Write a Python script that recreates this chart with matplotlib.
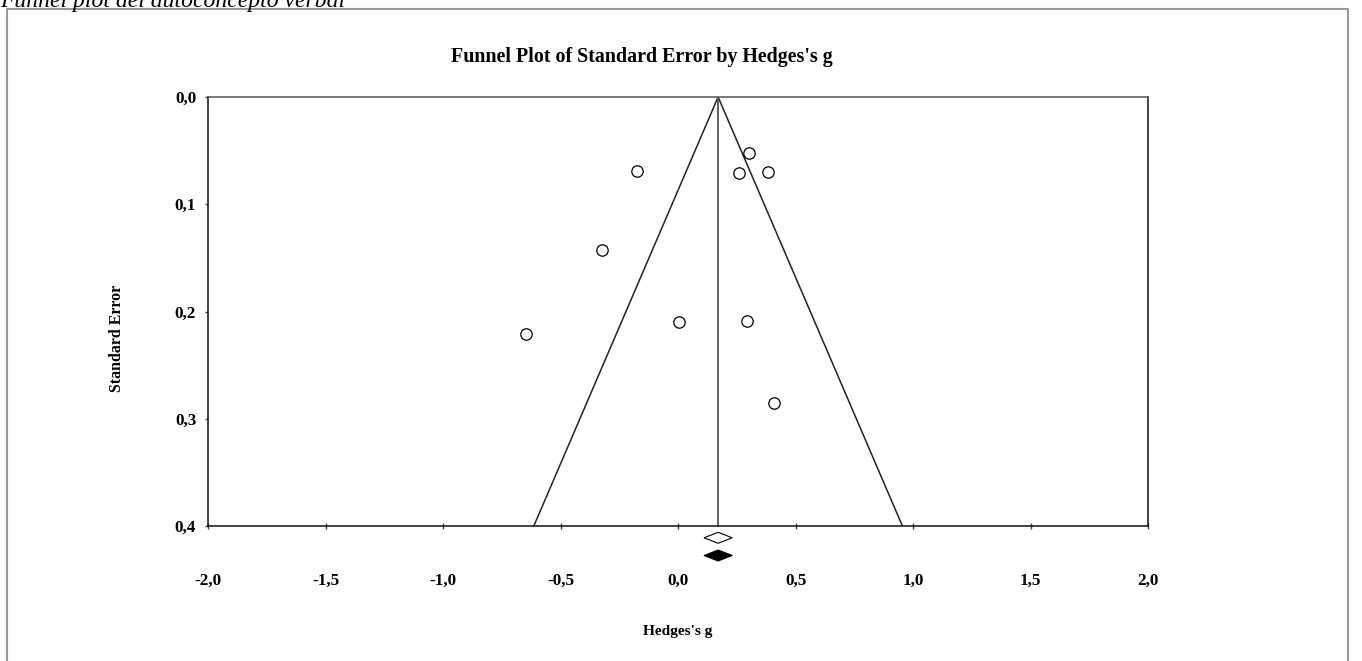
import numpy as np
import matplotlib.pyplot as plt
from matplotlib.patches import Polygon
from matplotlib.lines import Line2D

# study effects (Hedges's g) and standard errors
hedges_g = [0.300, -0.177, 0.258, 0.382, -0.326, -0.648, 0.002, 0.291, 0.406]
std_err = [0.052, 0.069, 0.071, 0.070, 0.143, 0.221, 0.210, 0.209, 0.285]

# pooled estimate (observed / adjusted) with CI
pooled_g = 0.170
pooled_ci = [0.110, 0.230]
adjusted_g = 0.170
adjusted_ci = [0.110, 0.230]

x_ticks = [-2.0, -1.5, -1.0, -0.5, 0.0, 0.5, 1.0, 1.5, 2.0]
y_ticks = [0.0, 0.1, 0.2, 0.3, 0.4]
se_max = 0.4

W, H = 1362, 661
plt.rcParams['font.family'] = ['Liberation Serif', 'DejaVu Serif']

fig = plt.figure(figsize=(W / 100, H / 100), dpi=100)
ax = fig.add_axes([208 / W, 1 - 526 / H, 940.3 / W, 429 / H])

# funnel
ax.plot([pooled_g - 1.96 * se_max, pooled_g, pooled_g + 1.96 * se_max],
        [se_max, 0, se_max], color='#222222', lw=1.1)
ax.plot([pooled_g, pooled_g], [0, se_max], color='#555555', lw=1.3)

ax.plot(hedges_g, std_err, 'o', mfc='white', mec='black', ms=8.2, mew=0.9,
        clip_on=False, zorder=5)

# diamonds below the axis
def diamond(center, ci, y, h, filled):
    pts = [[ci[0], y], [center, y - h], [ci[1], y], [center, y + h]]
    p = Polygon(pts, closed=True, facecolor='black' if filled else 'white',
                edgecolor='black', lw=0.8, clip_on=False, zorder=5)
    ax.add_patch(p)

diamond(pooled_g, pooled_ci, 0.4110, 0.0051, False)
diamond(adjusted_g, adjusted_ci, 0.4275, 0.0051, True)

ax.set_xlim(-2.0, 2.0)
ax.set_ylim(se_max, 0.0)
ax.set_xticks(x_ticks)
ax.set_xticklabels([f'{v:.1f}'.replace('.', ',') for v in x_ticks])
ax.set_yticks(y_ticks)
ax.set_yticklabels([f'{v:.1f}'.replace('.', ',') for v in y_ticks])
ax.tick_params(axis='x', direction='inout', length=4, width=1, color='#444444',
               pad=32, labelsize=12.3)
ax.tick_params(axis='y', direction='out', length=2.5, width=1, color='#444444',
               pad=6, labelsize=12.3)
for lab in ax.get_xticklabels() + ax.get_yticklabels():
    lab.set_fontweight('bold')
for side in ['left', 'bottom', 'right']:
    ax.spines[side].set_color('#111111')
ax.spines['top'].set_color('#555555')
for s in ax.spines.values():
    s.set_linewidth(1.1)

fig.text(642 / W, 1 - 62 / H, "Funnel Plot of Standard Error by Hedges's g",
         ha='center', va='baseline', fontsize=14.4, fontweight='bold')
fig.text(678 / W, 1 - 635 / H, "Hedges's g", ha='center', va='baseline',
         fontsize=11.1, fontweight='bold')
fig.text(117 / W, 1 - 338 / H, 'Standard Error', ha='center', va='center',
         rotation=90, fontsize=11.4, fontweight='bold')

# caption cut off at the top, and the surrounding frame
fig.text(0, 1 - 7 / H, 'Funnel plot del autoconcepto verbal', ha='left',
         va='baseline', fontsize=17, style='italic')
fig.add_artist(Line2D([7 / W, 7 / W, 1348 / W, 1348 / W],
                      [0, 1 - 8.5 / H, 1 - 8.5 / H, 0],
                      transform=fig.transFigure, color='#999999', lw=1.5))

fig.savefig('out.png', dpi=100)
